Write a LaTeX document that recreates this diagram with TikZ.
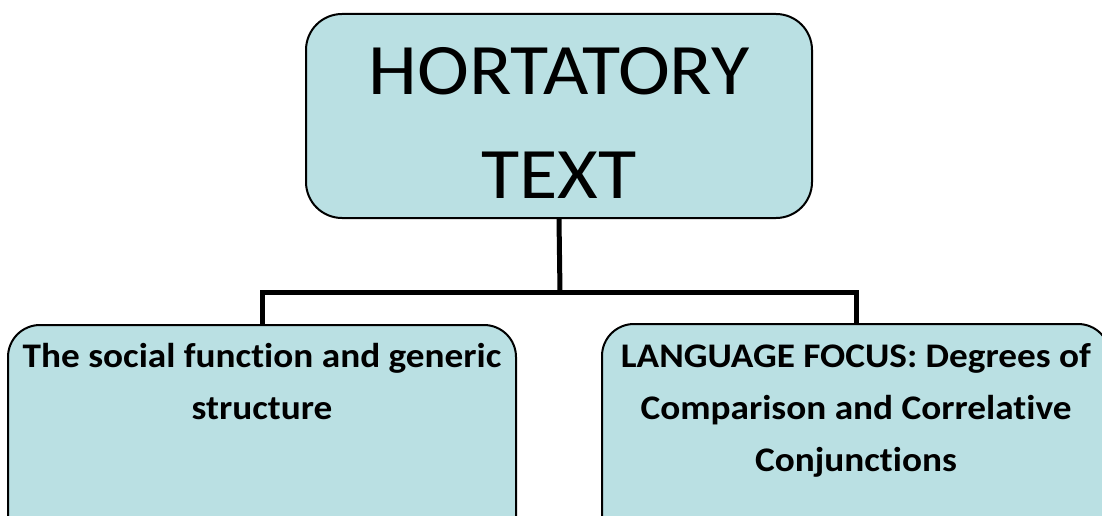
\documentclass[tikz,border=0pt]{standalone}
\usepackage{fontspec}
\setmainfont{Carlito}[FakeStretch=1.08, Ligatures=NoCommon]
\usetikzlibrary{positioning}

\definecolor{boxblue}{RGB}{186,224,227}

\tikzset{
    topic/.style={draw=black, line width=2pt, fill=boxblue, rounded corners=32pt, inner sep=0pt},
    subtext/.style={align=center, font=\bfseries\fontsize{34.5}{52}\selectfont, inner sep=0pt},
    branch/.style={line width=5pt},
}

\begin{document}
\begin{tikzpicture}[x=1pt,y=-1pt]

    \path[use as bounding box, clip] (0,0) rectangle (1102,516);

    \node[topic, minimum width=506pt, minimum height=204pt, rounded corners=36pt] (title) at (559,116) {};
    \node[topic, minimum width=508pt, minimum height=240pt, anchor=north] (social) at (262,324) {};
    \node[topic, minimum width=508pt, minimum height=240pt, anchor=north] (focus) at (856,323) {};

    \node[align=center, inner sep=0pt, font=\fontsize{72.5}{104}\selectfont,
          below=34pt of title.north] (titletext) {HORTATORY\\TEXT};
    \node[subtext, below=19pt of social.north] (socialtext) {The social function and generic\\structure};
    \node[subtext, below=20pt of focus.north] (focustext) {LANGUAGE FOCUS: Degrees of\\Comparison and Correlative\\Conjunctions};

    % connectors
    \coordinate (split) at (560,292);
    \draw[branch] (title.south) -- (split);
    \draw[branch] (split) -| (social.north);
    \draw[branch] (split) -| (focus.north);

\end{tikzpicture}
\end{document}
